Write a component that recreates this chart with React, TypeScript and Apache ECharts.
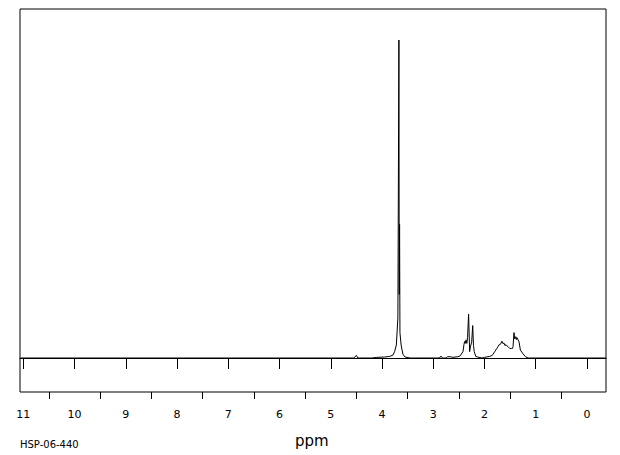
import React, { useEffect, useRef } from "react";
import * as echarts from "echarts";

// chemical shift (ppm) and relative intensity of the trace
const shiftPpm = [
  11.06, 4.55, 4.5, 4.47, 4.2, 4.1, 3.95, 3.85, 3.787, 3.754, 3.72, 3.69, 3.67, 3.664, 3.657, 3.65,
  3.627, 3.592, 3.55, 3.45, 2.88, 2.85, 2.82, 2.75, 2.72, 2.66, 2.63, 2.52, 2.48, 2.42, 2.4, 2.387,
  2.375, 2.36, 2.345, 2.33, 2.31, 2.29, 2.275, 2.25, 2.23, 2.215, 2.2, 2.17, 2.13, 2.05, 2.0, 1.9,
  1.85, 1.8, 1.76, 1.736, 1.72, 1.69, 1.66, 1.64, 1.62, 1.6, 1.58, 1.56, 1.53, 1.508, 1.47, 1.455,
  1.443, 1.424, 1.41, 1.39, 1.378, 1.365, 1.345, 1.326, 1.3, 1.248, 1.2, 1.15, -0.371,
];
const intensity = [
  0, 0, 0.8, 0, 0, 0.2, 0.3, 0.5, 0.9, 2.0, 4.1, 12.6, 100, 20, 42, 8,
  4.1, 1.2, 0.3, 0, 0, 0.6, 0, 0, 0.4, 0.4, 0.2, 0.4, 0.6, 2.0, 4.3, 5.2,
  4.6, 5.7, 4.6, 6.5, 13.8, 2.0, 3.5, 5.0, 10.2, 4.0, 2.0, 0.5, 0.3, 0, 0.2, 0.5,
  0.8, 2.0, 3.0, 3.6, 4.1, 4.3, 5.3, 4.5, 4.7, 3.9, 4.2, 3.8, 3.4, 3.0, 3.0, 3.0,
  3.6, 8.0, 6.0, 6.7, 5.8, 6.4, 5.7, 5.1, 2.5, 1.3, 0.4, 0, 0,
];

const majorTicks = [11, 10, 9, 8, 7, 6, 5, 4, 3, 2, 1, 0];
const tickLabels = ["11", "10", "9", "8", "7", "6", "5", "4", "3", "2", "1", "0"];
const minorTicks = [10.5, 9.5, 8.5, 7.5, 6.5, 5.5, 4.5, 3.5, 2.5, 1.5, 0.5];
const xMin = -0.371;
const xMax = 11.064;
const yMin = -10.69;
const yMax = 109.75;
const axisTitle = "ppm";
const sampleId = "HSP-06-440";

export default function App() {
  const ref = useRef<HTMLDivElement>(null);
  useEffect(() => {
    if (!ref.current) return;
    const chart = echarts.init(ref.current, null, { renderer: "svg" });
    const data = shiftPpm.map((x, i) => [x, intensity[i]]);
    const labelMap: Record<string, string> = {};
    majorTicks.forEach((v, i) => (labelMap[String(v)] = tickLabels[i]));
    chart.setOption({
      animation: false,
      backgroundColor: "#ffffff",
      grid: {
        left: 20,
        right: 14,
        top: 9,
        bottom: 63,
        show: true,
        borderColor: "#000",
        borderWidth: 1,
        backgroundColor: "transparent",
      },
      xAxis: [
        {
          type: "value",
          min: xMin,
          max: xMax,
          inverse: true,
          position: "bottom",
          axisLine: { show: true, lineStyle: { color: "#000", width: 1 } },
          axisTick: {
            show: true,
            customValues: majorTicks,
            length: 11,
            lineStyle: { color: "#000", width: 1 },
          },
          axisLabel: {
            show: true,
            customValues: majorTicks,
            formatter: (v: number) => labelMap[String(v)] ?? String(v),
            margin: 17,
            color: "#000",
            fontSize: 11,
            fontFamily: "DejaVu Sans",
          },
          splitLine: { show: false },
        },
        {
          type: "value",
          min: xMin,
          max: xMax,
          inverse: true,
          position: "bottom",
          axisLine: { show: false },
          axisTick: {
            show: true,
            customValues: minorTicks,
            length: 7,
            lineStyle: { color: "#000", width: 1 },
          },
          axisLabel: { show: false },
          splitLine: { show: false },
        },
      ],
      yAxis: {
        type: "value",
        min: yMin,
        max: yMax,
        show: false,
        splitLine: { show: false },
      },
      series: [
        {
          type: "line",
          xAxisIndex: 0,
          data,
          showSymbol: false,
          symbol: "none",
          silent: true,
          lineStyle: { color: "#000", width: 1 },
          emphasis: { disabled: true },
        },
      ],
      graphic: [
        {
          type: "text",
          left: 295,
          top: 433,
          style: {
            text: axisTitle,
            fill: "#000",
            fontSize: 15,
            fontFamily: "DejaVu Sans",
          },
        },
        {
          type: "text",
          left: 20,
          top: 439,
          style: {
            text: sampleId,
            fill: "#000",
            fontSize: 10,
            fontFamily: "DejaVu Sans",
          },
        },
      ],
    });
    return () => chart.dispose();
  }, []);
  return (
    <div
      ref={ref}
      style={{ position: "fixed", left: 0, top: 0, width: 620, height: 455, background: "#fff" }}
    />
  );
}
